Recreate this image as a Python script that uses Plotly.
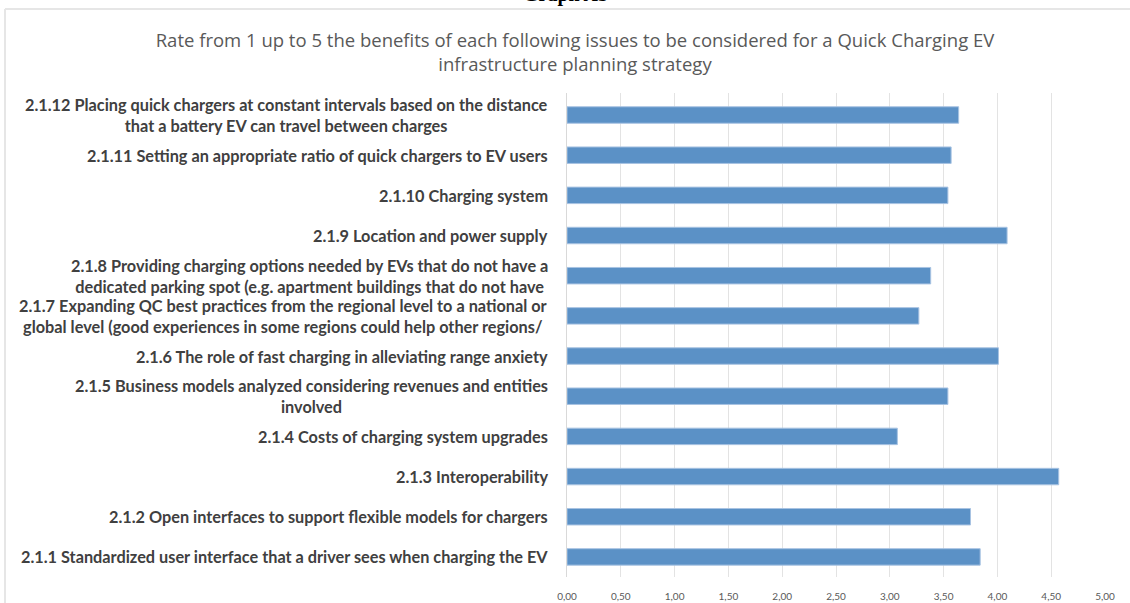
import plotly.graph_objects as go

# ---- data (bottom to top) ----
item_ids = ["2.1.1", "2.1.2", "2.1.3", "2.1.4", "2.1.5", "2.1.6",
            "2.1.7", "2.1.8", "2.1.9", "2.1.10", "2.1.11", "2.1.12"]
item_labels = [
    "2.1.1 Standardized user interface that a driver sees when charging the EV",
    "2.1.2 Open interfaces to support flexible models for chargers",
    "2.1.3 Interoperability",
    "2.1.4 Costs of charging system upgrades",
    "2.1.5 Business models analyzed considering revenues and entities<br>involved",
    "2.1.6 The role of fast charging in alleviating range anxiety",
    "2.1.7 Expanding QC best practices from the regional level to a national or<br>global level (good experiences in some regions could help other regions/",
    "2.1.8 Providing charging options needed by EVs that do not have a<br>dedicated parking spot (e.g. apartment buildings that do not have",
    "2.1.9 Location and power supply",
    "2.1.10 Charging system",
    "2.1.11 Setting an appropriate ratio of quick chargers to EV users",
    "2.1.12 Placing quick chargers at constant intervals based on the distance<br>that a battery EV can travel between charges",
]
mean_scores = [3.84, 3.75, 4.57, 3.07, 3.54, 4.01, 3.27, 3.38, 4.09, 3.54, 3.57, 3.64]
x_ticks = [0, 0.5, 1, 1.5, 2, 2.5, 3, 3.5, 4, 4.5, 5]

title_text = ("Rate from 1 up to 5 the benefits of each following issues to be considered for a Quick Charging EV"
              "<br>infrastructure planning strategy")

W, H = 1130, 603
ML, MR, MT, MB = 567, 25, 93, 26
PW, PH = W - ML - MR, H - MT - MB


def px_to_paper_x(px):
    return (px - ML) / PW


def px_to_paper_y(py):
    return 1 + (MT - py) / PH


fig = go.Figure()
fig.add_trace(go.Bar(
    x=mean_scores, y=item_ids, orientation="h",
    marker=dict(color="#5b91c6", line=dict(color="#a8c3e2", width=1)),
    width=0.41, hoverinfo="x+y",
))

annotations = []
for iid, lab in zip(item_ids, item_labels):
    annotations.append(dict(
        x=px_to_paper_x(550), xref="paper", y=iid, yref="y",
        text=lab, showarrow=False, xanchor="right", yanchor="middle",
        align="center",
        font=dict(family="Lato", size=16.3, color="#404040", weight="bold"),
    ))

# cropped page heading above the chart
annotations.append(dict(
    x=px_to_paper_x(565), xref="paper", y=px_to_paper_y(-5.5), yref="paper",
    text="<b>Graph A5</b>", showarrow=False, xanchor="center", yanchor="middle",
    font=dict(family="Liberation Serif", size=20, color="#000000"),
))

shapes = [
    dict(type="line", xref="paper", yref="paper",
         x0=px_to_paper_x(5), x1=px_to_paper_x(W + 5),
         y0=px_to_paper_y(9), y1=px_to_paper_y(9),
         line=dict(color="#e6e6e6", width=2)),
    dict(type="line", xref="paper", yref="paper",
         x0=px_to_paper_x(5), x1=px_to_paper_x(5),
         y0=px_to_paper_y(9), y1=px_to_paper_y(H + 5),
         line=dict(color="#e6e6e6", width=2)),
]

fig.update_layout(
    width=W, height=H,
    margin=dict(l=ML, r=MR, t=MT, b=MB, pad=0, autoexpand=False),
    paper_bgcolor="white", plot_bgcolor="white",
    separators=",.",
    showlegend=False,
    title=dict(
        text=title_text, x=575 / W, xanchor="center", y=1 - 47 / H, yanchor="middle",
        font=dict(family="Open Sans", size=18.5, color="#595959"),
    ),
    xaxis=dict(
        range=[0, 5], tickvals=x_ticks, tickformat=".2f",
        showgrid=True, gridcolor="#e3e3e3", gridwidth=1,
        zeroline=False, showline=False, automargin=False,
        ticks="", ticklabelstandoff=12,
        tickfont=dict(family="Lato", size=10, color="#595959"),
        fixedrange=True,
    ),
    yaxis=dict(
        type="category", categoryorder="array", categoryarray=item_ids,
        showticklabels=False, showgrid=False, zeroline=False,
        showline=True, linecolor="#d9d9d9", linewidth=1, automargin=False,
        fixedrange=True,
    ),
    annotations=annotations,
    shapes=shapes,
)

fig.write_html("out.html", config={"displayModeBar": False},
               post_script="document.body.style.margin='0';")
